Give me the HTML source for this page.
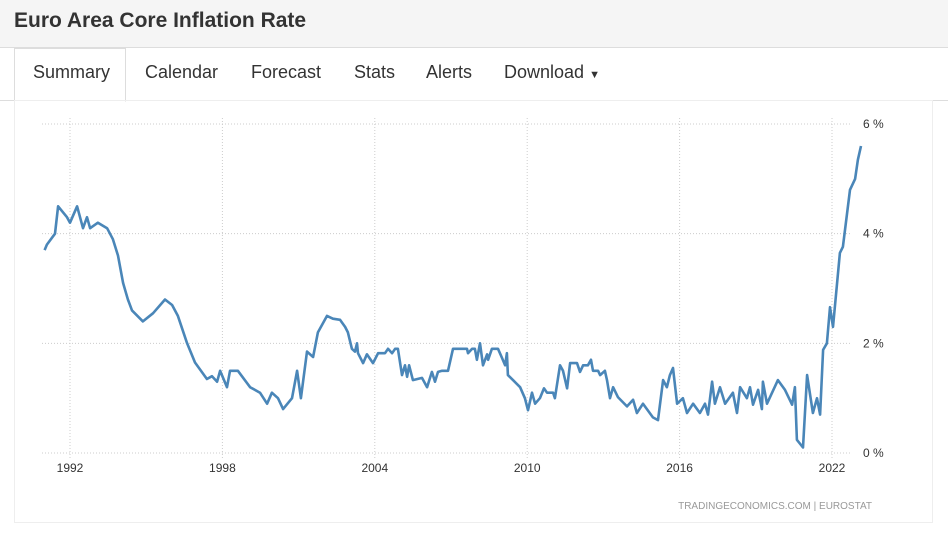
<!DOCTYPE html>
<html><head><meta charset="utf-8"><style>
body{margin:0;width:948px;height:541px;overflow:hidden;background:#fff;font-family:"Liberation Sans",sans-serif;position:relative}
.hdr{position:absolute;left:0;top:0;width:948px;height:47px;background:#f5f5f5;border-bottom:1px solid #ddd}
.hdr h1{margin:0;position:absolute;left:14px;top:9px;font-size:21px;font-weight:bold;color:#333}
.tabs{position:absolute;left:0;top:48px;width:948px;height:52px;border-bottom:1px solid #ddd}
.tab{position:absolute;top:14px;font-size:18px;color:#333}
.active{position:absolute;left:14px;top:0;width:110px;height:52px;background:#fff;border:1px solid #ddd;border-bottom:1px solid #fff}
svg{position:absolute;left:0;top:0}
</style></head><body>
<div class="hdr"><h1>Euro Area Core Inflation Rate</h1></div>
<div class="tabs">
<div class="active"></div>
<span class="tab" style="left:33px">Summary</span>
<span class="tab" style="left:145px">Calendar</span>
<span class="tab" style="left:251px">Forecast</span>
<span class="tab" style="left:354px">Stats</span>
<span class="tab" style="left:426px">Alerts</span>
<span class="tab" style="left:504px">Download <span style="font-size:11px">&#9660;</span></span>
</div>
<svg id="chart" width="948" height="541"></svg>
<script>
const dates=[1991.00,1991.09,1991.41,1991.53,1991.88,1992.00,1992.28,1992.51,1992.67,1992.79,1993.10,1993.46,1993.69,1993.89,1994.09,1994.28,1994.44,1994.87,1995.27,1995.74,1996.02,1996.25,1996.61,1996.92,1997.39,1997.59,1997.79,1997.91,1998.18,1998.30,1998.61,1999.09,1999.48,1999.76,1999.95,2000.19,2000.39,2000.74,2000.94,2001.09,2001.33,2001.57,2001.76,2002.12,2002.35,2002.63,2002.83,2002.94,2003.10,2003.22,2003.30,2003.34,2003.54,2003.69,2003.93,2004.13,2004.40,2004.52,2004.68,2004.80,2004.91,2005.07,2005.19,2005.27,2005.35,2005.50,2005.86,2006.06,2006.25,2006.37,2006.49,2006.65,2006.88,2007.08,2007.63,2007.67,2007.83,2007.94,2008.02,2008.14,2008.26,2008.42,2008.46,2008.61,2008.85,2009.01,2009.13,2009.20,2009.24,2009.44,2009.72,2009.91,2010.03,2010.19,2010.31,2010.50,2010.66,2010.78,2011.02,2011.09,2011.29,2011.41,2011.57,2011.69,2011.96,2012.08,2012.20,2012.39,2012.51,2012.59,2012.79,2012.87,2013.06,2013.14,2013.26,2013.38,2013.57,2013.93,2014.17,2014.32,2014.56,2014.95,2015.15,2015.35,2015.50,2015.62,2015.74,2015.90,2016.13,2016.29,2016.53,2016.80,2017.00,2017.12,2017.28,2017.39,2017.59,2017.79,2018.10,2018.26,2018.38,2018.65,2018.77,2018.89,2019.09,2019.24,2019.28,2019.44,2019.87,2020.15,2020.43,2020.54,2020.62,2020.86,2021.02,2021.25,2021.41,2021.53,2021.65,2021.80,2021.92,2022.04,2022.31,2022.43,2022.71,2022.91,2023.02,2023.14];
const values=[3.7,3.8,4.0,4.5,4.3,4.2,4.5,4.1,4.3,4.1,4.2,4.1,3.9,3.6,3.1,2.8,2.6,2.4,2.55,2.8,2.7,2.5,2.0,1.65,1.35,1.4,1.3,1.5,1.2,1.5,1.5,1.2,1.1,0.9,1.1,1.0,0.8,1.0,1.5,1.0,1.85,1.75,2.2,2.5,2.45,2.43,2.3,2.2,1.9,1.85,2.0,1.82,1.64,1.8,1.64,1.82,1.82,1.9,1.82,1.9,1.9,1.42,1.6,1.39,1.6,1.33,1.37,1.2,1.48,1.3,1.48,1.5,1.5,1.9,1.9,1.82,1.9,1.9,1.7,2.0,1.6,1.8,1.7,1.9,1.9,1.73,1.6,1.82,1.42,1.33,1.2,1.0,0.78,1.1,0.9,1.0,1.18,1.1,1.1,1.0,1.6,1.5,1.18,1.64,1.64,1.48,1.6,1.6,1.7,1.5,1.5,1.42,1.5,1.33,1.0,1.2,1.02,0.85,0.97,0.73,0.9,0.65,0.6,1.33,1.2,1.42,1.55,0.9,1.0,0.73,0.9,0.73,0.9,0.7,1.3,0.9,1.2,0.9,1.1,0.73,1.2,1.0,1.2,0.88,1.15,0.8,1.3,0.9,1.33,1.15,0.88,1.2,0.24,0.1,1.42,0.73,1.0,0.7,1.88,2.0,2.66,2.3,3.65,3.76,4.8,5.0,5.35,5.6];
const xTicks=[1992,1998,2004,2010,2016,2022];
const yTicks=[0,2,4,6];
const NS="http://www.w3.org/2000/svg";
const svg=document.getElementById('chart');
const X=y=>70+(y-1992)*25.4;
const Y=v=>453-v*54.83;
function mk(t,a){const e=document.createElementNS(NS,t);for(const k in a)e.setAttribute(k,a[k]);svg.appendChild(e);return e;}
const box=mk('rect',{x:14.5,y:100.5,width:918,height:422,fill:'none',stroke:'#eee'});


yTicks.forEach(v=>{
 const l=mk('line',{x1:42,x2:852,y1:Y(v),y2:Y(v),stroke:'#ccc','stroke-dasharray':'1,2'});
 
 
 const t=mk('text',{x:863,y:Y(v)+4,'font-size':12,fill:'#333'});t.textContent=v+' %';
 
 
});
xTicks.forEach(y=>{
 const l=mk('line',{x1:X(y),x2:X(y),y1:118,y2:458,stroke:'#ccc','stroke-dasharray':'1,2'});
 
 
 const t=mk('text',{x:X(y),y:472,'font-size':12,fill:'#333','text-anchor':'middle'});t.textContent=y;
 
 
});
const p=mk('polyline',{points:dates.map((d,i)=>X(d).toFixed(1)+','+Y(values[i]).toFixed(1)).join(' '),fill:'none',stroke:'#4a86b8','stroke-width':2.6,'stroke-linejoin':'round'});


const f=mk('text',{x:872,y:509,'font-size':10,fill:'#999','text-anchor':'end'});f.textContent='TRADINGECONOMICS.COM  |  EUROSTAT';


</script>
</body></html>
